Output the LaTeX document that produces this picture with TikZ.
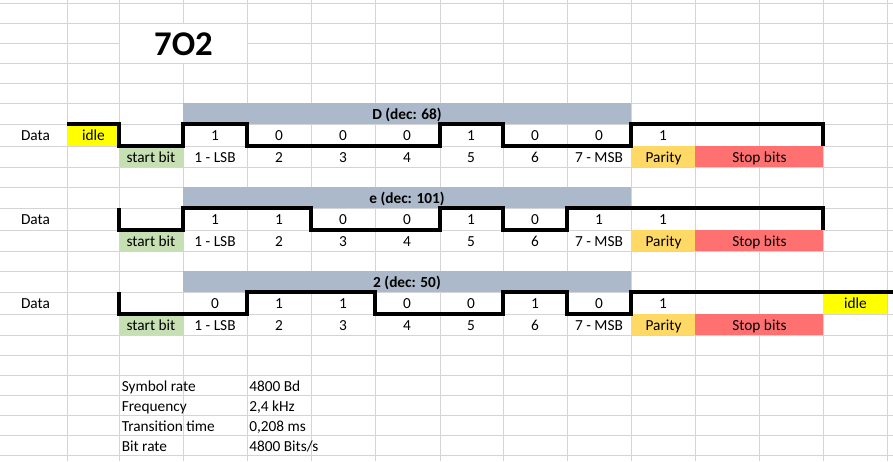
\documentclass[tikz,border=0pt]{standalone}
\usepackage{fontspec}
\setmainfont{Carlito}
\definecolor{gridgrey}{HTML}{D4D4D4}
\definecolor{hdrgrey}{HTML}{ACB9CA}
\definecolor{idleyellow}{HTML}{FFFF00}
\definecolor{startgreen}{HTML}{C6E0B4}
\definecolor{paritygold}{HTML}{FFD966}
\definecolor{stopred}{HTML}{FF7070}
\tikzset{
  cell/.style={anchor=base, inner sep=0pt, font=\fontsize{11.5}{13}\selectfont},
  lcell/.style={cell, anchor=base west},
  hcell/.style={cell, font=\fontsize{11.5}{13}\selectfont\bfseries},
  gridline/.style={color=gridgrey, line width=0.75pt},
  signal/.style={line width=2.4pt, line join=miter, color=black},
}
\begin{document}
\begin{tikzpicture}[x=0.75pt,y=-0.75pt]
  \useasboundingbox (0,0) rectangle (893,461);
  \fill[white] (0,0) rectangle (893,461);

  \foreach \gx in {67,119,183,247,311,375,440,503,567,631,695,759,823,887}
    \draw[gridline] (\gx,0) -- (\gx,461);
  \foreach \gy in {3,23,43,63,83,103,124,146,167,187,208,230,251,271,292,314,335,355,375,395,415,435,455}
    \draw[gridline] (0,\gy) -- (893,\gy);

  \fill[white] (119.5,23.5) rectangle (246.5,62.5);
  \node[cell, font=\fontsize{26}{30}\selectfont\bfseries] (title) at (183.5,55.5) {7O2};


  \fill[hdrgrey] (183,103) rectangle (631,124);
  \node[hcell] (hd1) at (407,119) {D (dec: 68)};
  \node[cell] (data1) at (35.5,140.5) {Data};
  \fill[idleyellow] (67,124) rectangle (119,146);
  \node[cell] (idle1) at (93.5,140.5) {idle};
  \foreach \v [count=\i] in {1,0,0,0,1,0,0,1}
    \node[cell] (v1\i) at (151+64*\i,140.5) {\v};
  \fill[startgreen] (119,146) rectangle (183,167);
  \node[cell] (st1) at (151,162) {start bit};
  \foreach \p [count=\i] in {1 - LSB,2,3,4,5,6,7 - MSB}
    \node[cell] (p1\i) at (151+64*\i,162) {\p};
  \fill[paritygold] (631,146) rectangle (695,167);
  \node[cell] (par1) at (663.5,162) {Parity};
  \fill[stopred] (695,146) rectangle (823,167);
  \node[cell] (stop1) at (759.5,162) {Stop bits};
  \draw[signal] (67,124) -- (119,124) -- (119,146) -- (183,146) -- (183,124)
    -- (247,124) -- (247,146) -- (440,146) -- (440,124) -- (503,124)
    -- (503,146) -- (631,146) -- (631,124) -- (823,124) -- (823,146);


  \fill[hdrgrey] (183,187) rectangle (631,208);
  \node[hcell] (hd2) at (407,203) {e (dec: 101)};
  \node[cell] (data2) at (35.5,224.5) {Data};
  \foreach \v [count=\i] in {1,1,0,0,1,0,1,1}
    \node[cell] (v2\i) at (151+64*\i,224.5) {\v};
  \fill[startgreen] (119,230) rectangle (183,251);
  \node[cell] (st2) at (151,246) {start bit};
  \foreach \p [count=\i] in {1 - LSB,2,3,4,5,6,7 - MSB}
    \node[cell] (p2\i) at (151+64*\i,246) {\p};
  \fill[paritygold] (631,230) rectangle (695,251);
  \node[cell] (par2) at (663.5,246) {Parity};
  \fill[stopred] (695,230) rectangle (823,251);
  \node[cell] (stop2) at (759.5,246) {Stop bits};
  \draw[signal] (119,208) -- (119,230) -- (183,230) -- (183,208) -- (311,208)
    -- (311,230) -- (440,230) -- (440,208) -- (503,208) -- (503,230)
    -- (567,230) -- (567,208) -- (823,208) -- (823,230);


  \fill[hdrgrey] (183,271) rectangle (631,292);
  \node[hcell] (hd3) at (407,287) {2 (dec: 50)};
  \node[cell] (data3) at (35.5,308.5) {Data};
  \foreach \v [count=\i] in {0,1,1,0,0,1,0,1}
    \node[cell] (v3\i) at (151+64*\i,308.5) {\v};
  \fill[idleyellow] (823,292) rectangle (887,314);
  \node[cell] (idle3) at (855.5,308.5) {idle};
  \fill[startgreen] (119,314) rectangle (183,335);
  \node[cell] (st3) at (151,330) {start bit};
  \foreach \p [count=\i] in {1 - LSB,2,3,4,5,6,7 - MSB}
    \node[cell] (p3\i) at (151+64*\i,330) {\p};
  \fill[paritygold] (631,314) rectangle (695,335);
  \node[cell] (par3) at (663.5,330) {Parity};
  \fill[stopred] (695,314) rectangle (823,335);
  \node[cell] (stop3) at (759.5,330) {Stop bits};
  \draw[signal] (119,292) -- (119,314) -- (247,314) -- (247,292) -- (375,292)
    -- (375,314) -- (503,314) -- (503,292) -- (567,292) -- (567,314)
    -- (631,314) -- (631,292) -- (893,292);


  \node[lcell] (symrate) at (121.5,391) {Symbol rate};
  \node[lcell] (symrateval) at (249,391) {4800 Bd};
  \node[lcell] (freq) at (121.5,411) {Frequency};
  \node[lcell] (freqval) at (249,411) {2,4 kHz};
  \node[lcell] (trans) at (121.5,431) {Transition time};
  \node[lcell] (transval) at (249,431) {0,208 ms};
  \node[lcell] (bitrate) at (121.5,451) {Bit rate};
  \node[lcell] (bitrateval) at (249,451) {4800 Bits/s};
\end{tikzpicture}
\end{document}
